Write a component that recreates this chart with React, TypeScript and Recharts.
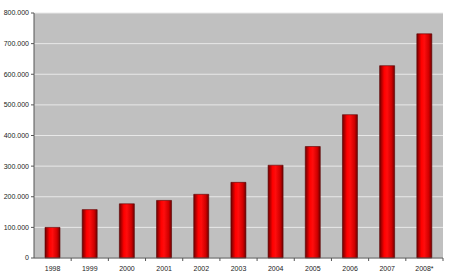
import { BarChart, Bar, XAxis, YAxis, CartesianGrid } from "recharts";

const years = ["1998", "1999", "2000", "2001", "2002", "2003", "2004", "2005", "2006", "2007", "2008*"];
const values = [100000, 158000, 177000, 188000, 208000, 247000, 303000, 364000, 468000, 628000, 732000];
const yTicks = [0, 100000, 200000, 300000, 400000, 500000, 600000, 700000, 800000];

const data = years.map((year, i) => ({ year, value: values[i] }));

function fmtDot(v: number): string {
  return String(v).replace(/\B(?=(\d{3})+(?!\d))/g, ".");
}

const FONT = "'Liberation Sans', Arial, sans-serif";

// label at the category centre, tick mark on the boundary to its right
function YearTick({ x, y, payload }: any) {
  const half = 409 / 11 / 2;
  const axisY = 258;
  return (
    <g>
      <line x1={x + half} y1={axisY} x2={x + half} y2={axisY + 3} stroke="#555" strokeWidth={1} />
      <text x={x} y={axisY + 12.5} textAnchor="middle" fontSize={7} fill="#222" fontFamily={FONT}>
        {payload.value}
      </text>
    </g>
  );
}

export default function App() {
  return (
    <div style={{ position: "fixed", left: 0, top: 0, background: "#fff" }}>
      <BarChart
        width={450}
        height={280}
        data={data}
        margin={{ top: 13, right: 7, left: 0, bottom: 0 }}
        barSize={15}
      >
        <defs>
          <linearGradient id="gBar" x1="0" y1="0" x2="1" y2="0">
            <stop offset="0%" stopColor="#6e0000" />
            <stop offset="30%" stopColor="#ff0000" />
            <stop offset="50%" stopColor="#ff0d0d" />
            <stop offset="80%" stopColor="#d00000" />
            <stop offset="100%" stopColor="#700000" />
          </linearGradient>
        </defs>
        <CartesianGrid fill="#c0c0c0" stroke="#e8e8e8" strokeWidth={1} vertical={false} />
        <XAxis
          dataKey="year"
          height={22}
          interval={0}
          axisLine={{ stroke: "#555" }}
          tickLine={false}
          tick={<YearTick />}
        />
        <YAxis
          width={34}
          domain={[0, 800000]}
          ticks={yTicks}
          interval={0}
          tickFormatter={fmtDot}
          tickSize={3}
          tickMargin={2}
          axisLine={{ stroke: "#555" }}
          tickLine={{ stroke: "#555" }}
          tick={{ fontSize: 7, fill: "#222", fontFamily: FONT }}
        />
        <Bar
          dataKey="value"
          fill="url(#gBar)"
          stroke="#5a0000"
          strokeWidth={0.6}
          isAnimationActive={false}
        />
      </BarChart>
    </div>
  );
}
